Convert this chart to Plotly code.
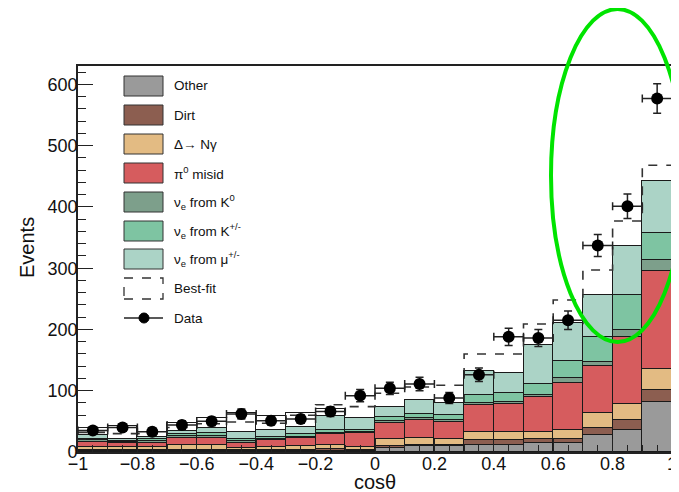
import plotly.graph_objects as go

# ---------------- data ----------------
bin_centers = [-0.95, -0.85, -0.75, -0.65, -0.55, -0.45, -0.35, -0.25, -0.15, -0.05,
               0.05, 0.15, 0.25, 0.35, 0.45, 0.55, 0.65, 0.75, 0.85, 0.95]
bin_edges = [-1.0, -0.9, -0.8, -0.7, -0.6, -0.5, -0.4, -0.3, -0.2, -0.1, 0.0,
             0.1, 0.2, 0.3, 0.4, 0.5, 0.6, 0.7, 0.8, 0.9, 1.0]

other = [1, 1, 1, 1, 1, 1, 1, 1.5, 2, 2, 6, 9, 9, 11, 12, 15, 14, 28, 36, 82]
dirt = [1.5, 1.5, 1.5, 2, 2, 2, 2, 2.5, 3, 2, 4, 2, 2, 9, 8, 7, 8, 11, 16, 19]
delta_ngamma = [5.5, 5, 5, 8, 8, 3, 4.5, 6, 6.5, 4.5, 12, 12, 10, 12, 13, 11, 14, 24, 27, 35]
pi0_misid = [9, 6.5, 8, 12.5, 12.5, 9.5, 12, 13, 17.5, 22, 25, 29, 28, 45, 45, 57, 77, 77, 109, 160]
nue_k0 = [2, 1.6, 2.5, 2, 3, 2.5, 1.5, 2, 1.5, 2.5, 3, 3, 3, 3, 4, 3, 7, 7, 11, 17]
nue_kpm = [3, 2.4, 2.5, 3.5, 4, 3, 4, 4, 5.5, 3, 7, 7, 8, 13, 15, 18, 28, 41, 57, 45]
nue_mu = [5, 3, 4.5, 5, 8, 11, 11, 11, 22, 20, 17, 23, 20, 40, 32, 63, 62, 69, 80, 84]
open_box = [12, 22, 8, 13, 16.5, 32, 22, 23, 13, None,
            None, None, None, None, None, None, None, None, None, None]

best_fit = [32, 30, 30, 40, 46, 49, 47, 60, 77, 74, 96, 106, 109, 160, 160, 209, 248, 297, 377, 468]

data = [35, 40, 33, 44, 50, 62, 51, 54, 66, 92, 104, 111, 88, 126, 188, 186, 215, 337, 401, 577]
data_err = [6, 6, 6, 7, 7, 8, 7, 7, 8, 10, 10, 11, 9, 11, 14, 14, 15, 18, 20, 24]
half_width = [0.05] * 20

x_tick_vals = [-1, -0.8, -0.6, -0.4, -0.2, 0, 0.2, 0.4, 0.6, 0.8, 1]
x_tick_text = ["−1", "−0.8", "−0.6", "−0.4", "−0.2", "0", "0.2", "0.4", "0.6", "0.8", "1"]

components = [
    ("Other", other, "#9a9a9a"),
    ("Dirt", dirt, "#8c5e50"),
    ("Δ→ Nγ", delta_ngamma, "#e3bb83"),
    ("π<sup>0</sup> misid", pi0_misid, "#d65c5e"),
    ("ν<sub>e</sub> from K<sup>0</sup>", nue_k0, "#7d9f8b"),
    ("ν<sub>e</sub> from K<sup>+/-</sup>", nue_kpm, "#7ec4a2"),
    ("ν<sub>e</sub> from μ<sup>+/-</sup>", nue_mu, "#abd3c6"),
]

FONT = "Liberation Sans, Arial, Helvetica, sans-serif"

fig = go.Figure()
for name, vals, col in components:
    fig.add_trace(go.Bar(x=bin_centers, y=vals, width=0.1, name=name,
                         marker=dict(color=col, line=dict(color="#1a1a1a", width=1.4)),
                         showlegend=False))
fig.add_trace(go.Bar(x=bin_centers, y=open_box, width=0.1, name="box",
                     marker=dict(color="white", line=dict(color="#1a1a1a", width=1.4)),
                     showlegend=False))

fig.add_trace(go.Scatter(x=bin_edges, y=best_fit + [best_fit[-1]], mode="lines",
                         line=dict(shape="hv", color="#333333", width=1.6, dash="dash"),
                         showlegend=False))

fig.add_trace(go.Scatter(x=bin_centers, y=data, mode="markers",
                         marker=dict(color="black", size=12),
                         error_y=dict(type="data", array=data_err, color="#222222",
                                      thickness=1.5, width=4),
                         error_x=dict(type="data", array=half_width, color="#222222",
                                      thickness=1.5, width=4),
                         showlegend=False))

# ---------------- layout ----------------
# page body has an 8px margin: work in screen pixels, convert to figure pixels
OFF = 8
W, H = 679 - OFF, 492 - OFF
L, R, T, B = 78 - OFF, 7, 66 - OFF, 40
pw, ph = W - L - R, H - T - B


def px(X):
    return (X - OFF - L) / pw


def py(Y):
    return (H - B - (Y - OFF)) / ph


shapes = []
annotations = []
legend_rows = [
    ("Other", "#9a9a9a", 86),
    ("Dirt", "#8c5e50", 115),
    ("Δ→ Nγ", "#e3bb83", 144),
    ("π<sup>0</sup> misid", "#d65c5e", 173),
    ("ν<sub>e</sub> from K<sup>0</sup>", "#7d9f8b", 202),
    ("ν<sub>e</sub> from K<sup>+/-</sup>", "#7ec4a2", 231),
    ("ν<sub>e</sub> from μ<sup>+/-</sup>", "#abd3c6", 259),
]
for label, col, yc in legend_rows:
    shapes.append(dict(type="rect", xref="paper", yref="paper",
                       x0=px(124), x1=px(163), y0=py(yc + 10), y1=py(yc - 10),
                       fillcolor=col, line=dict(color="#333333", width=1)))
    annotations.append(dict(text=label, xref="paper", yref="paper", x=px(172), y=py(yc),
                            xanchor="left", yanchor="middle", showarrow=False,
                            font=dict(size=13.5, color="#111111", family=FONT)))
# Best-fit legend
shapes.append(dict(type="rect", xref="paper", yref="paper",
                   x0=px(124), x1=px(163), y0=py(299), y1=py(278),
                   fillcolor="rgba(0,0,0,0)", line=dict(color="#333333", width=1.3, dash="dash")))
annotations.append(dict(text="Best-fit", xref="paper", yref="paper", x=px(172), y=py(288),
                        xanchor="left", yanchor="middle", showarrow=False,
                        font=dict(size=13.5, color="#111111", family=FONT)))
# Data legend
shapes.append(dict(type="line", xref="paper", yref="paper",
                   x0=px(124), x1=px(163), y0=py(318), y1=py(318),
                   line=dict(color="#222222", width=1.5)))
shapes.append(dict(type="circle", xref="paper", yref="paper",
                   x0=px(139), x1=px(149), y0=py(323), y1=py(313),
                   fillcolor="black", line=dict(color="black", width=1)))
annotations.append(dict(text="Data", xref="paper", yref="paper", x=px(172), y=py(318),
                        xanchor="left", yanchor="middle", showarrow=False,
                        font=dict(size=13.5, color="#111111", family=FONT)))

# axis titles
annotations.append(dict(text="Events", xref="paper", yref="paper", x=px(27), y=py(248),
                        xanchor="center", yanchor="middle", textangle=-90, showarrow=False,
                        font=dict(size=20, color="#111111", family=FONT)))
annotations.append(dict(text="cosθ", xref="paper", yref="paper", x=px(375), y=py(482),
                        xanchor="center", yanchor="middle", showarrow=False,
                        font=dict(size=20, color="#111111", family=FONT)))

# green ellipse highlight
shapes.append(dict(type="circle", xref="paper", yref="paper",
                   x0=px(551), x1=px(684), y0=py(342), y1=py(9),
                   line=dict(color="rgb(0,228,0)", width=4), fillcolor="rgba(0,0,0,0)",
                   layer="above"))

fig.update_layout(
    width=W, height=H,
    margin=dict(l=L, r=R, t=T, b=B, autoexpand=False),
    paper_bgcolor="white", plot_bgcolor="white",
    barmode="stack", bargap=0,
    font=dict(family=FONT, color="#111111"),
    shapes=shapes, annotations=annotations,
    showlegend=False,
)
fig.update_xaxes(range=[-1, 1], tickvals=x_tick_vals, ticktext=x_tick_text,
                 automargin=False, ticklabeloverflow="allow", ticklabelstandoff=-6,
                 ticks="inside", ticklen=13, tickwidth=1.3, tickcolor="#222222",
                 minor=dict(ticks="inside", ticklen=7, dtick=0.05, tickwidth=1, tickcolor="#222222"),
                 showline=True, linecolor="#222222", linewidth=1.8, mirror=True,
                 showgrid=False, zeroline=False,
                 tickfont=dict(size=18, family=FONT, color="#111111"))
fig.update_yaxes(range=[0, 630], dtick=100, tick0=0,
                 automargin=False, ticklabeloverflow="allow", ticklabelstandoff=-5,
                 ticks="inside", ticklen=15, tickwidth=1.3, tickcolor="#222222",
                 minor=dict(ticks="inside", ticklen=8, dtick=20, tickwidth=1, tickcolor="#222222"),
                 showline=True, linecolor="#222222", linewidth=1.8, mirror=True,
                 showgrid=False, zeroline=False,
                 tickfont=dict(size=18, family=FONT, color="#111111"))

fig.write_html("out.html")
